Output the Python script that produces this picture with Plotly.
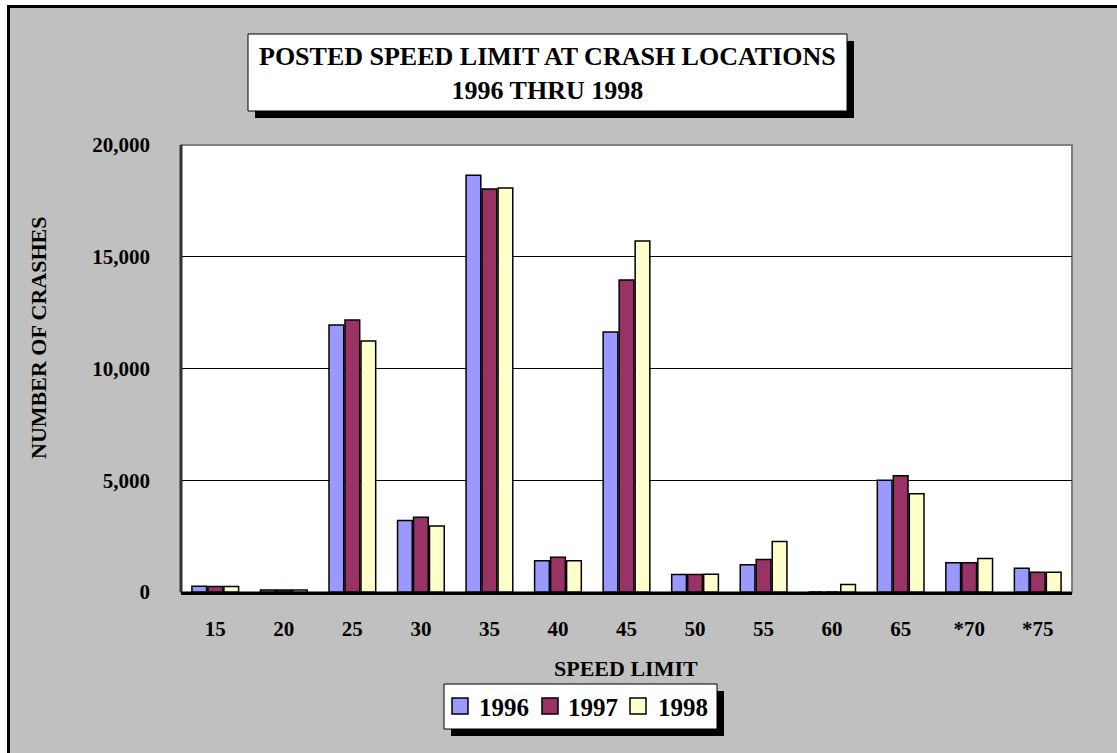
import plotly.graph_objects as go

speed_limits = ["15", "20", "25", "30", "35", "40", "45", "50", "55", "60", "65", "*70", "*75"]
crashes_1996 = [260, 90, 11950, 3200, 18650, 1400, 11630, 780, 1220, 0, 5000, 1310, 1060]
crashes_1997 = [250, 90, 12170, 3350, 18030, 1550, 13960, 780, 1450, 0, 5200, 1310, 880]
crashes_1998 = [250, 90, 11230, 2950, 18080, 1400, 15700, 790, 2260, 340, 4400, 1500, 880]
years = ["1996", "1997", "1998"]
colors = ["#9999FF", "#993366", "#FFFFCC"]

W, H = 1117, 753
# plot area in page pixel coordinates
L, R, T, B = 181, 1072, 145, 592

def px(x):
    return (x - L) / (R - L)

def py(y):
    return (B - y) / (B - T)

fig = go.Figure()
for name, vals, col in zip(years, [crashes_1996, crashes_1997, crashes_1998], colors):
    fig.add_trace(go.Bar(
        x=speed_limits, y=vals, name=name,
        marker=dict(color=col, line=dict(color="black", width=1.5)),
    ))

ff = "Liberation Serif, Times New Roman, serif"

shapes = [
    # outer gray panel with border (right/bottom edges beyond the page)
    dict(type="rect", xref="paper", yref="paper", x0=px(8.5), x1=px(1140), y0=py(780), y1=py(6.5),
         fillcolor="#C0C0C0", line=dict(color="black", width=3), layer="below"),
    # plot area white
    dict(type="rect", xref="paper", yref="paper", x0=0, x1=1, y0=0, y1=1,
         fillcolor="white", line=dict(color="#808080", width=2), layer="below"),
    # title shadow
    dict(type="rect", xref="paper", yref="paper", x0=px(255), x1=px(854), y0=py(118), y1=py(41),
         fillcolor="black", line=dict(width=0), layer="above"),
    # title box
    dict(type="rect", xref="paper", yref="paper", x0=px(248), x1=px(847), y0=py(111), y1=py(34),
         fillcolor="white", line=dict(color="black", width=1), layer="above"),
    # legend shadow
    dict(type="rect", xref="paper", yref="paper", x0=px(451), x1=px(724), y0=py(736), y1=py(691),
         fillcolor="black", line=dict(width=0), layer="above"),
    # legend box
    dict(type="rect", xref="paper", yref="paper", x0=px(444), x1=px(717), y0=py(729), y1=py(684),
         fillcolor="white", line=dict(color="black", width=1), layer="above"),
    # plot area left wall
    dict(type="line", xref="paper", yref="paper", x0=0, x1=0, y0=0, y1=1,
         line=dict(color="#333333", width=3)),
]

annotations = [
    dict(text="<b>POSTED SPEED LIMIT AT CRASH LOCATIONS<br>1996 THRU 1998</b>",
         xref="paper", yref="paper", x=px(547.5), y=py(73), showarrow=False,
         xanchor="center", yanchor="middle",
         font=dict(family=ff, size=26, color="black")),
    dict(text="<b>SPEED LIMIT</b>", xref="paper", yref="paper", x=px(626), y=py(668),
         showarrow=False, xanchor="center", yanchor="middle",
         font=dict(family=ff, size=22, color="black")),
    dict(text="<b>NUMBER OF CRASHES</b>", xref="paper", yref="paper", x=px(38), y=py(338),
         showarrow=False, xanchor="center", yanchor="middle", textangle=-90,
         font=dict(family=ff, size=22, color="black")),
]

# manual legend
sq_x = [452, 542, 630]
tx_x = [477, 566, 656]
for yr, col, sx, tx in zip(years, colors, sq_x, tx_x):
    shapes.append(dict(type="rect", xref="paper", yref="paper", x0=px(sx), x1=px(sx + 16),
                       y0=py(714), y1=py(698), fillcolor=col,
                       line=dict(color="black", width=1.5), layer="above"))
    annotations.append(dict(text="<b>%s</b>" % yr, xref="paper", yref="paper",
                            x=px(tx), y=py(707), showarrow=False, xanchor="left",
                            yanchor="middle", font=dict(family=ff, size=25, color="black")))

fig.update_layout(
    width=W, height=H,
    margin=dict(l=L, r=W - R, t=T, b=H - B, pad=0),
    paper_bgcolor="white",
    plot_bgcolor="white",
    barmode="group",
    bargap=0.3,
    bargroupgap=0.08,
    shapes=shapes,
    annotations=annotations,
    showlegend=False,
    xaxis=dict(
        type="category", categoryorder="array", categoryarray=speed_limits,
        tickvals=speed_limits, ticktext=["<b>%s</b>" % s for s in speed_limits],
        tickfont=dict(family=ff, size=21, color="black"),
        ticks="", showline=True, linecolor="black", linewidth=3,
        showgrid=False, ticklabelstandoff=16,
    ),
    yaxis=dict(
        range=[0, 20000], tickvals=[0, 5000, 10000, 15000, 20000],
        ticktext=["<b>0</b>", "<b>5,000</b>", "<b>10,000</b>", "<b>15,000</b>", "<b>20,000</b>"],
        tickfont=dict(family=ff, size=21, color="black"),
        showgrid=True, gridcolor="black", gridwidth=1,
        ticks="", ticklabelstandoff=30,
        showline=False, zeroline=False,
    ),
)

fig.write_html(
    "out.html",
    config={"displayModeBar": False},
    post_script="document.body.style.margin='0';document.body.style.overflow='hidden';",
)
